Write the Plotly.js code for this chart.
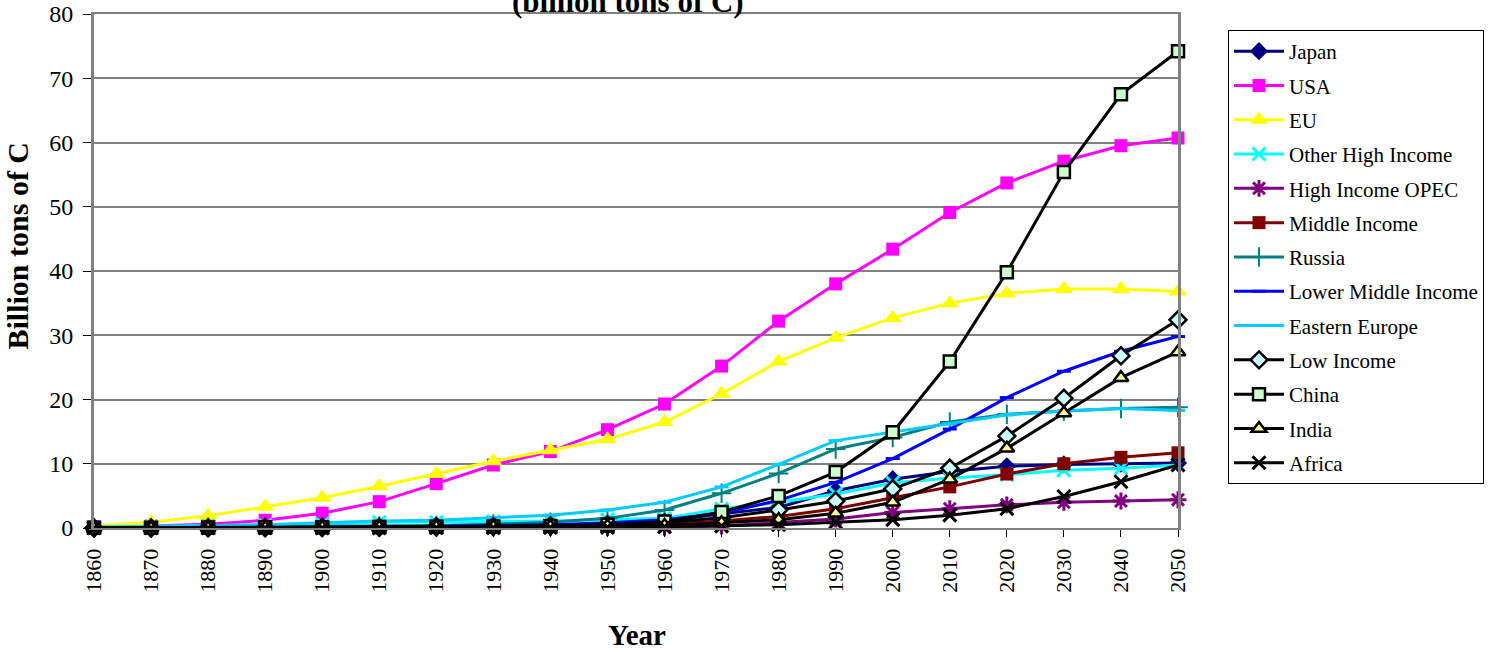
<!DOCTYPE html>
<html>
<head>
<meta charset="utf-8">
<script src="https://cdn.plot.ly/plotly-3.0.1.min.js"></script>
<style>
html,body{margin:0;padding:0;background:#fff;}
#chart{width:1496px;height:652px;}
</style>
</head>
<body>
<div id="chart"></div>
<script>
const years = [1860,1870,1880,1890,1900,1910,1920,1930,1940,1950,1960,1970,1980,1990,2000,2010,2020,2030,2040,2050];

const japan      = [0,0,0,0.02,0.05,0.1,0.15,0.2,0.35,0.5,1.0,2.2,3.2,5.8,7.6,8.8,9.6,9.9,10.0,10.1];
const usa        = [0.2,0.3,0.6,1.2,2.3,4.1,6.9,9.8,11.9,15.3,19.3,25.2,32.2,38.0,43.4,49.1,53.7,57.1,59.5,60.7];
const eu         = [0.3,0.9,1.9,3.3,4.7,6.5,8.4,10.4,12.1,13.8,16.5,20.9,25.9,29.6,32.7,35.0,36.5,37.2,37.2,36.8];
const otherHigh  = [0.1,0.2,0.3,0.4,0.6,0.9,0.9,1.0,1.1,1.3,1.5,3.0,4.0,5.3,7.0,7.8,8.3,9.0,9.3,9.8];
const opec       = [0,0,0,0,0,0,0.02,0.03,0.05,0.08,0.1,0.3,0.8,1.4,2.4,3.0,3.6,4.0,4.2,4.4];
const middleInc  = [0,0,0.02,0.05,0.08,0.12,0.18,0.25,0.35,0.45,0.6,1.1,1.8,3.0,4.7,6.4,8.4,10.0,11.0,11.7];
const russia     = [0,0.05,0.1,0.15,0.2,0.3,0.4,0.6,0.9,1.5,2.8,5.4,8.5,12.3,14.1,16.5,17.7,18.2,18.6,18.8];
const lowerMid   = [0,0,0.02,0.05,0.1,0.15,0.25,0.35,0.5,0.8,1.3,2.3,4.3,7.1,10.8,15.4,20.3,24.4,27.5,29.8];
const eastEurope = [0.1,0.2,0.3,0.5,0.8,1.1,1.2,1.6,2.0,2.8,4.0,6.4,9.9,13.6,14.9,16.2,17.6,18.2,18.6,18.3];
const lowInc     = [0,0,0.02,0.05,0.08,0.12,0.18,0.25,0.35,0.5,0.8,1.6,2.8,4.2,6.1,9.3,14.3,20.2,26.8,32.4];
const china      = [0.05,0.05,0.08,0.1,0.12,0.15,0.2,0.25,0.3,0.5,1.0,2.5,5.0,8.7,14.9,25.9,39.8,55.4,67.5,74.2];
const india      = [0,0,0.02,0.04,0.06,0.1,0.14,0.18,0.25,0.3,0.4,0.8,1.3,2.3,4.0,7.6,12.4,17.9,23.4,27.4];
const africa     = [0,0,0,0,0.01,0.02,0.03,0.05,0.07,0.1,0.2,0.3,0.5,0.9,1.3,2.0,3.0,4.9,7.2,9.8];

const seriesNames = ["Japan","USA","EU","Other High Income","High Income OPEC","Middle Income","Russia","Lower Middle Income","Eastern Europe","Low Income","China","India","Africa"];
const seriesData = [japan,usa,eu,otherHigh,opec,middleInc,russia,lowerMid,eastEurope,lowInc,china,india,africa];

const styles = [
  {line:'#000080', sym:'diamond', size:14, fill:'#000080', mline:'#000080', mw:0},
  {line:'#FF00FF', sym:'square', size:13, fill:'#FF00FF', mline:'#FF00FF', mw:0},
  {line:'#FFFF00', sym:'triangle-up', size:16, fill:'#FFFF00', mline:'#FFFF00', mw:0},
  {line:'#00FFFF', sym:'x-thin', size:13, fill:'#00FFFF', mline:'#00FFFF', mw:3},
  {line:'#800080', sym:'asterisk', size:14, fill:'#800080', mline:'#800080', mw:3},
  {line:'#800000', sym:'square', size:13, fill:'#800000', mline:'#800000', mw:0},
  {line:'#008080', sym:'cross-thin', size:14, fill:'#008080', mline:'#008080', mw:2},
  {line:'#0000FF', sym:'line-ew', size:10, fill:'#0000FF', mline:'#0000FF', mw:3},
  {line:'#00CCFF', sym:'line-ew', size:10, fill:'#00CCFF', mline:'#00CCFF', mw:3},
  {line:'#000000', sym:'diamond', size:13, fill:'#CCFFFF', mline:'#000000', mw:2.5},
  {line:'#000000', sym:'square', size:12, fill:'#CCFFCC', mline:'#000000', mw:2.5},
  {line:'#000000', sym:'triangle-up', size:13, fill:'#FFFF99', mline:'#000000', mw:2.5},
  {line:'#000000', sym:'x-thin', size:13, fill:'#000000', mline:'#000000', mw:3}
];

const traces = seriesNames.map((n,i)=>({
  type:'scatter', mode:'lines+markers', name:n, x:years, y:seriesData[i],
  legendgroup:'g'+i, cliponaxis:false,
  line:{color:styles[i].line, width:3},
  marker:{symbol:styles[i].sym, size:styles[i].size, color:styles[i].fill,
          line:{color:styles[i].mline, width:styles[i].mw}}
}));

const serif = 'Liberation Serif, Times New Roman, serif';

const layout = {
  width:1496, height:652,
  margin:{l:94, r:318, t:14, b:124},
  paper_bgcolor:'#fff', plot_bgcolor:'#fff',
  showlegend:true,
  font:{family:serif, color:'#000'},
  xaxis:{
    range:[1860,2050], tickmode:'array', tickvals:years, ticktext:years.map(String),
    tickangle:-90, ticks:'outside', ticklen:7, tickcolor:'#000', tickwidth:1,
    ticklabelstandoff:3,
    showgrid:false, zeroline:false,
    showline:true, linecolor:'#808080', linewidth:2, mirror:true,
    tickfont:{family:serif, size:22, color:'#000'}
  },
  yaxis:{
    range:[0,80], dtick:10, ticks:'outside', ticklen:8, tickcolor:'#000', tickwidth:1,
    ticklabelstandoff:5,
    showgrid:true, gridcolor:'#808080', gridwidth:2, zeroline:false,
    showline:true, linecolor:'#808080', linewidth:3, mirror:true,
    tickfont:{family:serif, size:24, color:'#000'}
  },
  legend:{
    x:(1228-94)/1084, y:(528-30)/514, xanchor:'left', yanchor:'top',
    bordercolor:'#000', borderwidth:1, bgcolor:'#fff',
    font:{family:serif, size:21, color:'#000'},
    tracegroupgap:4, traceorder:'grouped', itemwidth:50
  },
  annotations:[
    {text:'<b>(billion tons of C)</b>', xref:'paper', yref:'paper', x:(628-94)/1084, y:1.0,
     xanchor:'center', yanchor:'bottom', yshift:-7, showarrow:false, font:{family:serif, size:31}},
    {text:'<b>Billion tons of C</b>', xref:'paper', yref:'paper', x:(36-94)/1084, y:(528-246)/514,
     xanchor:'right', yanchor:'middle', textangle:-90, showarrow:false, font:{family:serif, size:30}},
    {text:'<b>Year</b>', xref:'paper', yref:'paper', x:(637-94)/1084, y:-(635-528)/514,
     xanchor:'center', yanchor:'middle', showarrow:false, font:{family:serif, size:29}}
  ]
};

Plotly.newPlot('chart', traces, layout, {displayModeBar:false, staticPlot:true});
</script>
</body>
</html>
